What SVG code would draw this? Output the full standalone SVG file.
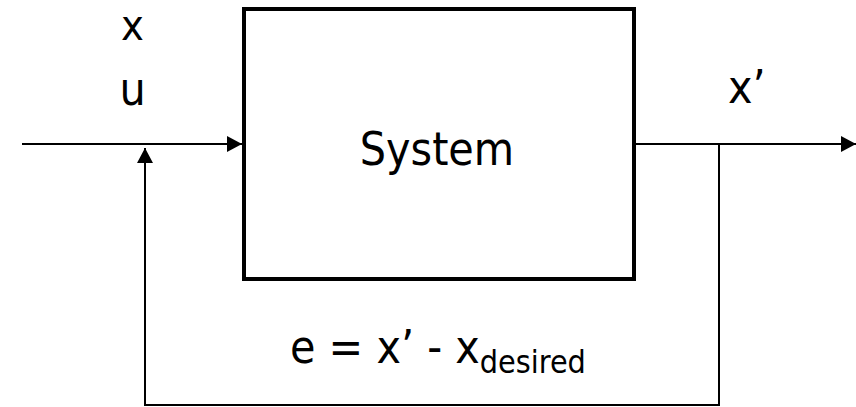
<svg xmlns="http://www.w3.org/2000/svg" width="856" height="407" viewBox="0 0 856 407">
  <style>
    .lbl { font-family: "DejaVu Sans Condensed", "DejaVu Sans", sans-serif; font-stretch: condensed; font-size: 46px; fill: #000; }
    .ln { fill: none; stroke: #000; stroke-width: 2; }
    .box { fill: #fff; stroke: #000; stroke-width: 4; }
  </style>
  <defs>
    <marker id="arr" markerUnits="userSpaceOnUse" markerWidth="15" markerHeight="16" refX="15" refY="8" orient="auto">
      <path d="M0,0 L15,8 L0,16 z" fill="#000"/>
    </marker>
  </defs>
  <g id="connectors">
    <line class="ln" x1="22" y1="144" x2="242" y2="144" marker-end="url(#arr)"/>
    <line class="ln" x1="636" y1="144" x2="856" y2="144" marker-end="url(#arr)"/>
    <polyline class="ln" points="719,144 719,405 145,405 145,148" marker-end="url(#arr)"/>
  </g>
  <g id="system">
    <rect class="box" x="244" y="9" width="390" height="270"/>
    <text class="lbl" x="437" y="165" text-anchor="middle">System</text>
  </g>
  <g id="input-labels">
    <text class="lbl" x="132.5" y="39.5" text-anchor="middle" style="font-size:43px">x</text>
    <text class="lbl" x="132.5" y="105" text-anchor="middle">u</text>
  </g>
  <g id="output-label">
    <text class="lbl" x="728" y="103">x’</text>
  </g>
  <g id="error-label">
    <text class="lbl" x="290" y="363">e = x’ - x<tspan y="373" style="font-size:32px">desired</tspan></text>
  </g>
</svg>
